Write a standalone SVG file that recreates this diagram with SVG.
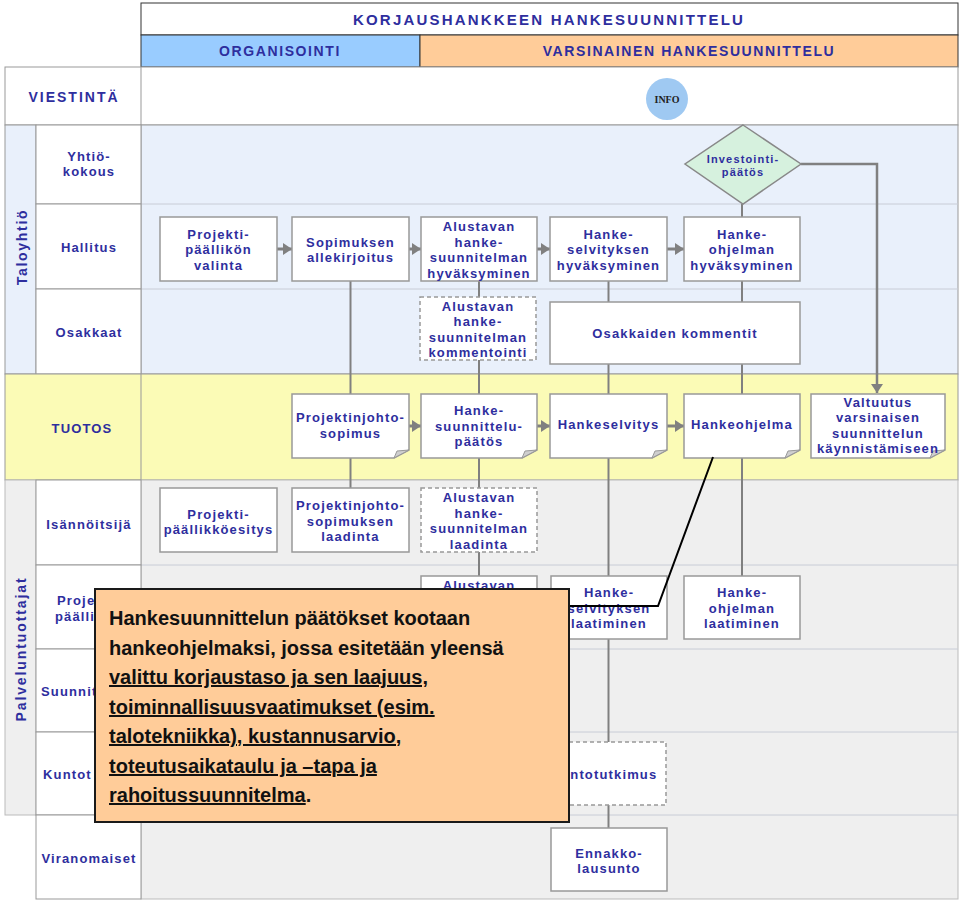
<svg xmlns="http://www.w3.org/2000/svg" width="960" height="901" viewBox="0 0 960 901">
<style>
.t{font-family:"Liberation Sans",Arial,sans-serif;font-weight:bold;font-size:13px;fill:#2E2E9E;letter-spacing:1.15px;text-anchor:middle}
.h{font-family:"Liberation Sans",Arial,sans-serif;font-weight:bold;font-size:14px;fill:#2E2E9E;letter-spacing:1.6px;text-anchor:middle}
.node{fill:#fff;stroke:#999;stroke-width:1.5}
.dash{fill:#fff;stroke:#999;stroke-width:1.5;stroke-dasharray:4 3}
.cell{fill:#fff;stroke:#999;stroke-width:1}
.lane{stroke:#C8CCD6;stroke-width:1}
.conn{stroke:#808080;stroke-width:2;fill:none}
.arr{stroke:#808080;stroke-width:3;fill:none;marker-end:url(#ah)}
.fold{fill:#CFCFCF;stroke:#999;stroke-width:1}
.c{font-family:"Liberation Sans",Arial,sans-serif;font-weight:bold;font-size:20px;fill:#111}
</style>
<defs>
<marker id="ah" markerUnits="userSpaceOnUse" markerWidth="10" markerHeight="12" refX="9" refY="6" orient="auto">
<path d="M0,0 L9,6 L0,12 Z" fill="#808080"/>
</marker>
</defs>
<rect width="960" height="901" fill="#fff"/>

<!-- header -->
<g id="header">
<rect x="141" y="3" width="817" height="32" fill="#fff" stroke="#333" stroke-width="1"/>
<text class="h" x="549" y="25" style="font-size:15px;letter-spacing:2.2px">KORJAUSHANKKEEN HANKESUUNNITTELU</text>
<rect x="141" y="35" width="279" height="32" fill="#99CCFF" stroke="#333" stroke-width="1"/>
<text class="h" x="280" y="56">ORGANISOINTI</text>
<rect x="420" y="35" width="538" height="32" fill="#FFCC99" stroke="#333" stroke-width="1"/>
<text class="h" x="689" y="56">VARSINAINEN HANKESUUNNITTELU</text>
<rect x="5" y="67" width="953" height="58" fill="#fff" stroke="#999" stroke-width="1"/>
<line x1="141" y1="67" x2="141" y2="125" stroke="#999"/>
<text class="h" x="74" y="102" style="letter-spacing:2px">VIESTINTÄ</text>
</g>
<g id="info">
<circle cx="667" cy="99" r="21" fill="#9FC9F2"/>
<text x="667" y="103" text-anchor="middle" font-family="Liberation Serif,serif" font-weight="bold" font-size="10" fill="#222">INFO</text>
</g>

<!-- Taloyhtiö section -->
<g id="taloyhtio">
<rect x="141" y="125" width="817" height="249" fill="#E9F0FB" stroke="#999" stroke-width="1"/>
<line class="lane" x1="141" y1="204" x2="958" y2="204"/>
<line class="lane" x1="141" y1="289" x2="958" y2="289"/>
<rect x="5" y="125" width="31" height="249" fill="#E9F0FB" stroke="#999" stroke-width="1"/>
<text class="t" transform="translate(27,247) rotate(-90)" style="font-size:14px;letter-spacing:1.7px">Taloyhtiö</text>
<rect class="cell" x="36" y="125" width="105" height="79"/>
<rect class="cell" x="36" y="204" width="105" height="85"/>
<rect class="cell" x="36" y="289" width="105" height="85"/>
<text class="t" x="89" y="161">Yhtiö-<tspan x="89" y="176">kokous</tspan></text>
<text class="t" x="89" y="252">Hallitus</text>
<text class="t" x="89" y="337">Osakkaat</text>
</g>

<!-- TUOTOS section -->
<g id="tuotos">
<rect x="5" y="374" width="953" height="106" fill="#FBFBB6" stroke="#999" stroke-width="1"/>
<line x1="141" y1="374" x2="141" y2="480" stroke="#999"/>
<text class="t" x="82" y="433">TUOTOS</text>
</g>

<!-- Palveluntuottajat section -->
<g id="palveluntuottajat">
<rect x="141" y="480" width="817" height="419" fill="#EFEFEF" stroke="#BBB" stroke-width="1"/>
<line class="lane" x1="141" y1="565" x2="958" y2="565" stroke="#D2D2D2"/>
<line class="lane" x1="141" y1="649" x2="958" y2="649" stroke="#D2D2D2"/>
<line class="lane" x1="141" y1="732" x2="958" y2="732" stroke="#D2D2D2"/>
<line class="lane" x1="141" y1="815" x2="958" y2="815" stroke="#D2D2D2"/>
<rect x="5" y="480" width="31" height="335" fill="#EFEFEF" stroke="#BBB" stroke-width="1"/>
<text class="t" transform="translate(26,649) rotate(-90)" style="font-size:14px;letter-spacing:1.9px">Palveluntuottajat</text>
<rect class="cell" x="36" y="480" width="105" height="85"/>
<rect class="cell" x="36" y="565" width="105" height="84"/>
<rect class="cell" x="36" y="649" width="105" height="83"/>
<rect class="cell" x="36" y="732" width="105" height="83"/>
<rect class="cell" x="36" y="815" width="105" height="84"/>
<text class="t" x="89" y="529">Isännöitsijä</text>
<text class="t" x="57" y="605" style="text-anchor:start">Proje<tspan x="55" y="621">päälli</tspan></text>
<text class="t" x="41" y="696" style="text-anchor:start">Suunnit</text>
<text class="t" x="43" y="779" style="text-anchor:start">Kuntot</text>
<text class="t" x="89" y="863">Viranomaiset</text>
</g>

<!-- connectors -->
<g id="connectors">
<line class="conn" x1="350.5" y1="281" x2="350.5" y2="394"/>
<line class="conn" x1="350.5" y1="458" x2="350.5" y2="488"/>
<line class="conn" x1="479" y1="281" x2="479" y2="297"/>
<line class="conn" x1="479" y1="360" x2="479" y2="394"/>
<line class="conn" x1="479" y1="458" x2="479" y2="488"/>
<line class="conn" x1="479" y1="552" x2="479" y2="576"/>
<line class="conn" x1="608.5" y1="281" x2="608.5" y2="302"/>
<line class="conn" x1="608.5" y1="364" x2="608.5" y2="394"/>
<line class="conn" x1="608.5" y1="458" x2="608.5" y2="576"/>
<line class="conn" x1="608.5" y1="639" x2="608.5" y2="742"/>
<line class="conn" x1="608.5" y1="805" x2="608.5" y2="828"/>
<line class="conn" x1="742" y1="204" x2="742" y2="217"/>
<line class="conn" x1="742" y1="281" x2="742" y2="302"/>
<line class="conn" x1="742" y1="364" x2="742" y2="394"/>
<line class="conn" x1="742" y1="458" x2="742" y2="576"/>
<polyline class="conn" points="801,164 877,164 877,393" style="stroke-width:2.5;marker-end:url(#ah)"/>
<line class="arr" x1="277" y1="249" x2="292" y2="249"/>
<line class="arr" x1="409" y1="249" x2="421" y2="249"/>
<line class="arr" x1="537" y1="249" x2="550" y2="249"/>
<line class="arr" x1="667" y1="249" x2="684" y2="249"/>
<line class="arr" x1="409" y1="426" x2="421" y2="426"/>
<line class="arr" x1="537" y1="426" x2="550" y2="426"/>
<line class="arr" x1="667" y1="426" x2="684" y2="426"/>
</g>

<!-- Hallitus nodes -->
<g id="n-ppvalinta"><rect class="node" x="160" y="217" width="117" height="64"/>
<text class="t" x="218.5" y="238.5">Projekti-<tspan x="218.5" y="254">päällikön</tspan><tspan x="218.5" y="269.5">valinta</tspan></text></g>
<g id="n-sopimus"><rect class="node" x="292" y="217" width="117" height="64"/>
<text class="t" x="350.5" y="247">Sopimuksen<tspan x="350.5" y="262">allekirjoitus</tspan></text></g>
<g id="n-ahs-hyv"><rect class="node" x="421" y="217" width="116" height="64"/>
<text class="t" x="479" y="231">Alustavan<tspan x="479" y="246.5">hanke-</tspan><tspan x="479" y="262">suunnitelman</tspan><tspan x="479" y="277.5">hyväksyminen</tspan></text></g>
<g id="n-hs-hyv"><rect class="node" x="550" y="217" width="117" height="64"/>
<text class="t" x="608.5" y="238.5">Hanke-<tspan x="608.5" y="254">selvityksen</tspan><tspan x="608.5" y="269.5">hyväksyminen</tspan></text></g>
<g id="n-ho-hyv"><rect class="node" x="684" y="217" width="116" height="64"/>
<text class="t" x="742" y="238.5">Hanke-<tspan x="742" y="254">ohjelman</tspan><tspan x="742" y="269.5">hyväksyminen</tspan></text></g>

<!-- Yhtiökokous -->
<g id="n-investointi"><polygon points="743,125 801,164 743,204 685,164" fill="#D6F1DE" stroke="#888" stroke-width="1.5"/>
<text class="t" x="743" y="163" style="font-size:11px">Investointi-<tspan x="743" y="176">päätös</tspan></text></g>

<!-- Osakkaat -->
<g id="n-ahs-komm"><rect class="dash" x="420" y="297" width="116" height="63"/>
<text class="t" x="478" y="310.5">Alustavan<tspan x="478" y="326">hanke-</tspan><tspan x="478" y="341.5">suunnitelman</tspan><tspan x="478" y="357">kommentointi</tspan></text></g>
<g id="n-osakk-komm"><rect class="node" x="550" y="302" width="250" height="62"/>
<text class="t" x="675" y="338">Osakkaiden kommentit</text></g>

<!-- TUOTOS documents -->
<g id="d-pjs"><path class="node" d="M292,394 H409 V450 L394,458 H292 Z"/><path class="fold" d="M394,458 L409,450 L397,451 Z"/>
<text class="t" x="350.5" y="422">Projektinjohto-<tspan x="350.5" y="437.5">sopimus</tspan></text></g>
<g id="d-hsp"><path class="node" d="M421,394 H537 V450 L522,458 H421 Z"/><path class="fold" d="M522,458 L537,450 L525,451 Z"/>
<text class="t" x="479" y="415">Hanke-<tspan x="479" y="430.5">suunnittelu-</tspan><tspan x="479" y="446">päätös</tspan></text></g>
<g id="d-hs"><path class="node" d="M550,394 H667 V450 L652,458 H550 Z"/><path class="fold" d="M652,458 L667,450 L655,451 Z"/>
<text class="t" x="608.5" y="429">Hankeselvitys</text></g>
<g id="d-ho"><path class="node" d="M684,394 H800 V450 L785,458 H684 Z"/><path class="fold" d="M785,458 L800,450 L788,451 Z"/>
<text class="t" x="742" y="429">Hankeohjelma</text></g>
<g id="d-valtuutus"><path class="node" d="M811,394 H945 V450 L930,458 H811 Z"/><path class="fold" d="M930,458 L945,450 L933,451 Z"/>
<text class="t" x="878" y="407">Valtuutus<tspan x="878" y="422">varsinaisen</tspan><tspan x="878" y="437.5">suunnittelun</tspan><tspan x="878" y="453">käynnistämiseen</tspan></text></g>

<!-- Isännöitsijä -->
<g id="n-ppesitys"><rect class="node" x="160" y="488" width="117" height="64"/>
<text class="t" x="218.5" y="519">Projekti-<tspan x="218.5" y="534">päällikköesitys</tspan></text></g>
<g id="n-pjs-laadinta"><rect class="node" x="292" y="488" width="117" height="64"/>
<text class="t" x="350.5" y="510">Projektinjohto-<tspan x="350.5" y="526">sopimuksen</tspan><tspan x="350.5" y="541">laadinta</tspan></text></g>
<g id="n-ahs-laadinta"><rect class="dash" x="421" y="488" width="116" height="64"/>
<text class="t" x="479" y="502">Alustavan<tspan x="479" y="518">hanke-</tspan><tspan x="479" y="533">suunnitelman</tspan><tspan x="479" y="549">laadinta</tspan></text></g>

<!-- Projektipäällikkö -->
<g id="n-ahs-laat"><rect class="node" x="421" y="576" width="116" height="63"/>
<text class="t" x="479" y="589.5">Alustavan</text></g>
<g id="n-hs-laat"><rect class="node" x="551" y="576" width="116" height="63"/>
<text class="t" x="609" y="597">Hanke-<tspan x="609" y="613">selvityksen</tspan><tspan x="609" y="628">laatiminen</tspan></text></g>
<g id="n-ho-laat"><rect class="node" x="684" y="576" width="116" height="63"/>
<text class="t" x="742" y="597">Hanke-<tspan x="742" y="613">ohjelman</tspan><tspan x="742" y="628">laatiminen</tspan></text></g>

<!-- Kuntotutkija -->
<g id="n-kuntotutkimus"><rect class="dash" x="548" y="742" width="118" height="63"/>
<text class="t" x="604" y="779">Kuntotutkimus</text></g>

<!-- Viranomaiset -->
<g id="n-ennakko"><rect class="node" x="551" y="828" width="116" height="63"/>
<text class="t" x="609" y="858">Ennakko-<tspan x="609" y="873">lausunto</tspan></text></g>

<!-- callout -->
<g id="callout">
<polyline points="713,457 658,606 569,606" fill="none" stroke="#000" stroke-width="2"/>
<rect x="95" y="589" width="474" height="233" fill="#FFCC99" stroke="#1A1A1A" stroke-width="2"/>
<text class="c" x="109" y="625">Hankesuunnittelun päätökset kootaan</text>
<text class="c" x="109" y="654.5">hankeohjelmaksi, jossa esitetään yleensä</text>
<text class="c" x="109" y="684" text-decoration="underline">valittu korjaustaso ja sen laajuus,</text>
<text class="c" x="109" y="714" text-decoration="underline">toiminnallisuusvaatimukset (esim.</text>
<text class="c" x="109" y="743" text-decoration="underline">talotekniikka), kustannusarvio,</text>
<text class="c" x="109" y="773" text-decoration="underline">toteutusaikataulu ja –tapa ja</text>
<text class="c" x="109" y="802"><tspan text-decoration="underline">rahoitussuunnitelma</tspan>.</text>
</g>
</svg>
